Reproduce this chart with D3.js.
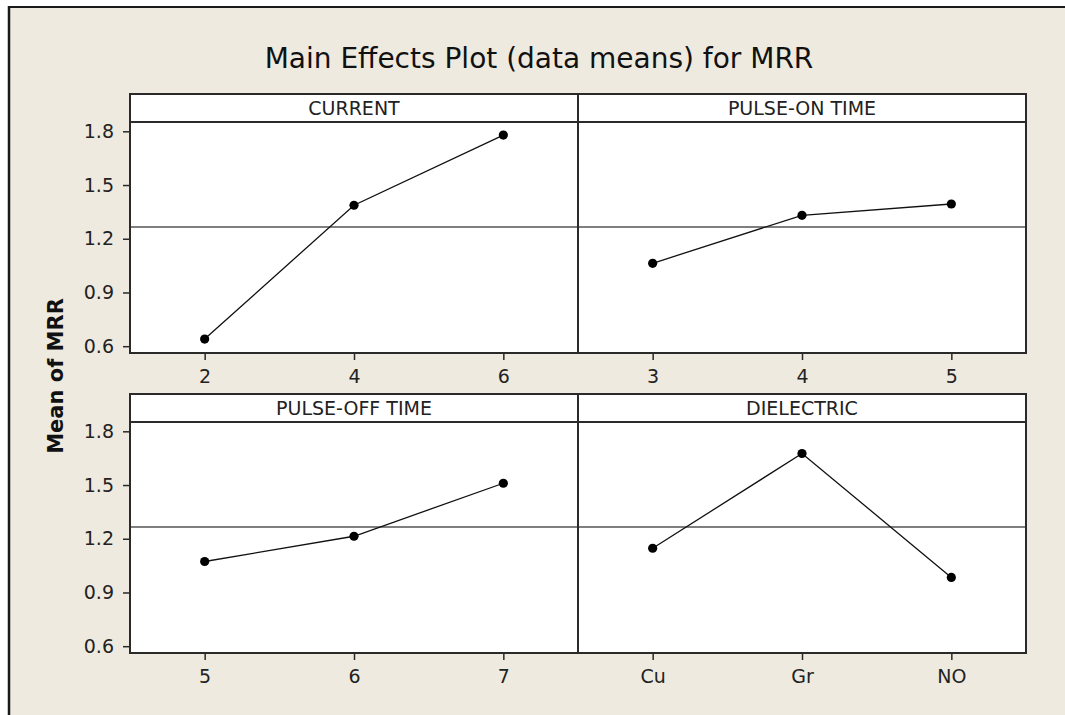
<!DOCTYPE html>
<html>
<head>
<meta charset="utf-8">
<script src="https://cdn.jsdelivr.net/npm/d3@7"></script>
<style>
  body { margin: 0; background: #fff; }
  .tick text { font-family: 'DejaVu Sans', sans-serif; }
</style>
</head>
<body>
<div id="chart"></div>
<script>
// 数据
const factorNames = ['CURRENT', 'PULSE-ON TIME', 'PULSE-OFF TIME', 'DIELECTRIC']
const currentLevels = ['2', '4', '6']
const currentMeans = [0.64, 1.387, 1.779]
const pulseOnLevels = ['3', '4', '5']
const pulseOnMeans = [1.063, 1.331, 1.394]
const pulseOffLevels = ['5', '6', '7']
const pulseOffMeans = [1.073, 1.214, 1.51]
const dielectricLevels = ['Cu', 'Gr', 'NO']
const dielectricMeans = [1.147, 1.676, 0.984]
const grandMean = 1.266
const yTicks = [0.6, 0.9, 1.2, 1.5, 1.8]
const yDomain = [0.562, 1.852]

const titleText = 'Main Effects Plot (data means) for MRR'
const ytitle = 'Mean of MRR'

const width = 1065
const height = 715
const font = "'DejaVu Sans', sans-serif"
const bg = '#eeeae0'
const frame = '#2a2a2a'

const svg = d3.select('#chart').append('svg').attr('width', width).attr('height', height)

// 背景 + 左上边框
svg.append('rect').attr('x', 8).attr('y', 6).attr('width', width - 8).attr('height', height - 6).attr('fill', bg)
svg.append('line').attr('x1', 8).attr('x2', width).attr('y1', 7).attr('y2', 7).attr('stroke', '#1a1a1a').attr('stroke-width', 2)
svg.append('line').attr('x1', 9).attr('x2', 9).attr('y1', 6).attr('y2', height).attr('stroke', '#1a1a1a').attr('stroke-width', 2.5)

// 标题
svg.append('text').text(titleText)
  .attr('x', 539).attr('y', 68)
  .attr('text-anchor', 'middle')
  .attr('font-family', font).attr('font-size', 28).attr('fill', '#111')

// 纵坐标标题
svg.append('text').text(ytitle)
  .attr('transform', 'translate(63,376) rotate(-90)')
  .attr('text-anchor', 'middle')
  .attr('font-family', font).attr('font-size', 21).attr('font-weight', 'bold').attr('fill', '#111')

const panels = [
  { name: factorNames[0], levels: currentLevels, means: currentMeans, col: 0, row: 0 },
  { name: factorNames[1], levels: pulseOnLevels, means: pulseOnMeans, col: 1, row: 0 },
  { name: factorNames[2], levels: pulseOffLevels, means: pulseOffMeans, col: 0, row: 1 },
  { name: factorNames[3], levels: dielectricLevels, means: dielectricMeans, col: 1, row: 1 }
]

const left = 130
const panelW = 448
const rowTop = [94, 394]
const stripH = 28
const plotH = 231

panels.forEach(p => drawPanel(p))

function drawPanel (p) {
  const x0 = left + p.col * panelW
  const top = rowTop[p.row]
  const g = svg.append('g').attr('transform', 'translate(' + x0 + ',' + (top + stripH) + ')')

  const xScale = d3.scalePoint().domain(p.levels).range([0, panelW]).padding(0.5)
  const yScale = d3.scaleLinear().domain(yDomain).range([plotH, 0])

  // 面板底色
  g.append('rect').attr('width', panelW).attr('height', plotH).attr('fill', '#fff')

  // 条带
  svg.append('rect')
    .attr('x', x0).attr('y', top).attr('width', panelW).attr('height', stripH)
    .attr('fill', '#fff').attr('stroke', frame).attr('stroke-width', 2)
  svg.append('text').text(p.name)
    .attr('x', x0 + panelW / 2).attr('y', top + stripH / 2 + 7)
    .attr('text-anchor', 'middle')
    .attr('font-family', font).attr('font-size', 19).attr('fill', '#222')

  // 参考线 (总平均)
  g.append('line')
    .attr('x1', 0).attr('x2', panelW)
    .attr('y1', yScale(grandMean)).attr('y2', yScale(grandMean))
    .attr('stroke', '#555').attr('stroke-width', 1.5)

  // 折线
  const line = d3.line().x((d, i) => xScale(p.levels[i])).y(d => yScale(d))
  g.append('path').attr('d', line(p.means))
    .attr('fill', 'none').attr('stroke', '#111').attr('stroke-width', 1.3)
  g.selectAll('circle').data(p.means).enter().append('circle')
    .attr('cx', (d, i) => xScale(p.levels[i]))
    .attr('cy', d => yScale(d))
    .attr('r', 4.6)
    .attr('fill', '#000')

  // 横坐标
  const xAxis = d3.axisBottom(xScale).tickSize(7).tickPadding(10)
  const xg = g.append('g').attr('transform', 'translate(0,' + plotH + ')').call(xAxis)
  xg.select('.domain').remove()
  xg.selectAll('line').attr('stroke', frame).attr('stroke-width', 1.5)
  xg.selectAll('text').attr('font-size', 19).attr('fill', '#222')

  // 纵坐标 (只在左列)
  if (p.col === 0) {
    const yAxis = d3.axisLeft(yScale).tickValues(yTicks).tickFormat(d3.format('.1f')).tickSize(7).tickPadding(9)
    const yg = g.append('g').call(yAxis)
    yg.select('.domain').remove()
    yg.selectAll('line').attr('stroke', frame).attr('stroke-width', 1.5)
    yg.selectAll('text').attr('font-size', 19).attr('fill', '#222')
  }

  // 边框
  g.append('rect').attr('width', panelW).attr('height', plotH)
    .attr('fill', 'none').attr('stroke', frame).attr('stroke-width', 2)
}
</script>
</body>
</html>
